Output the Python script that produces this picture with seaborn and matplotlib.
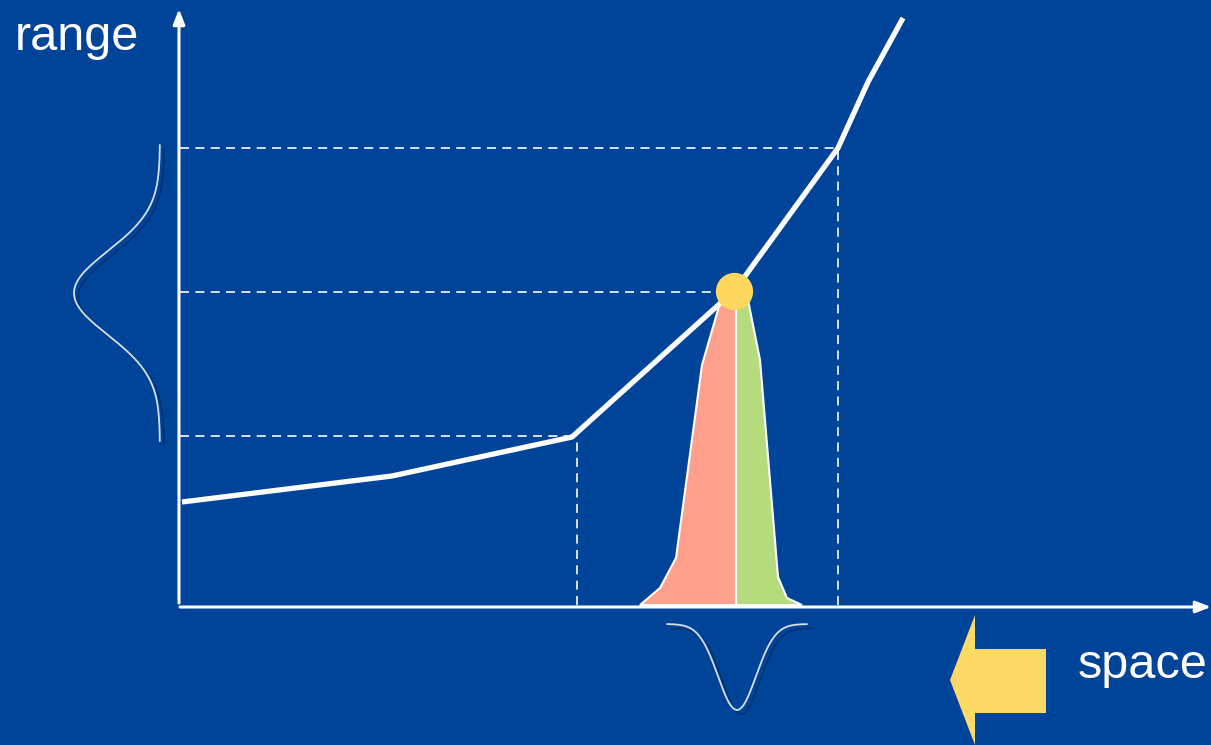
import numpy as np
import pandas as pd
import matplotlib
matplotlib.use("Agg")
import matplotlib.pyplot as plt
import matplotlib.patheffects as pe
import seaborn as sns

# Values (origin = where the axes meet, units ~ pixels)
curve_x = [2, 212, 392, 555, 658, 688, 723]
curve_y = [103, 129, 168, 315, 457, 523, 587]

# operating point and its projections
point_x, point_y = 554, 314
guide_levels = [169, 313, 457]          # horizontal dashed lines
guide_ends = [392, 540, 658]            # where they stop on x
drop_x = [397, 658]                     # vertical dashed lines
drop_top = [169, 457]

# output distribution under the operating point (left = lower, right = upper half)
peak_left_x = [460, 480, 496, 522, 540, 556]
peak_left_y = [0, 17, 47, 240, 302, 310]
peak_right_x = [556, 568, 580, 598, 607, 622]
peak_right_y = [310, 305, 245, 28, 7, 0]

# input / output bell shapes: (centre, width, depth)
bell_in = (557, 19, 86)
bell_out = (312, 42, 86)

BG = "#00449A"
sns.set_style("white", {"axes.facecolor": BG, "figure.facecolor": BG})
plt.rcParams["font.family"] = ["Liberation Sans", "DejaVu Sans"]

fig = plt.figure(figsize=(12.11, 7.45), dpi=100)
ax = fig.add_axes([0, 0, 1, 1])
ax.set_xlim(-180, 1031)
ax.set_ylim(-140, 605)
ax.axis("off")

# axes with arrow heads
ax.annotate("", xy=(1031, -2), xytext=(0, -2),
            arrowprops=dict(arrowstyle="-|>,head_length=0.9,head_width=0.35",
                            color="white", lw=2.2, shrinkA=0, shrinkB=0))
ax.annotate("", xy=(-1, 596), xytext=(-1, 2),
            arrowprops=dict(arrowstyle="-|>,head_length=0.9,head_width=0.35",
                            color="white", lw=2.2, shrinkA=0, shrinkB=0))

# dashed guides
dash = dict(color="white", lw=1.3, ls=(0, (5, 3.5)), alpha=0.9)
for lvl, end in zip(guide_levels, guide_ends):
    ax.plot([0, end], [lvl, lvl], **dash)
for xv, top in zip(drop_x, drop_top):
    ax.plot([xv, xv], [0, top], **dash)

# distribution under the point
ax.fill(peak_left_x + [556], peak_left_y + [0], color="#FFA08C", ec="white", lw=1.5, zorder=3)
ax.fill([556] + peak_right_x, [0] + peak_right_y, color="#B5DC7C", ec="white", lw=1.5, zorder=3)

# transfer curve
df = pd.DataFrame({"x": curve_x, "y": curve_y})
sns.lineplot(data=df, x="x", y="y", ax=ax, color="white", lw=3.8, sort=False,
             zorder=4, solid_joinstyle="round", solid_capstyle="butt")

ax.scatter([point_x], [point_y], s=720, color="#FFD75E", zorder=5, lw=0)

# bell shapes with a soft shadow
shadow = [pe.SimpleLineShadow(offset=(3, -3), shadow_color="#001a40", alpha=0.4, rho=0.3),
          pe.Normal()]
c, w, d = bell_in
bx = np.linspace(c - 70, c + 70, 200)
ax.plot(bx, -19 - d * np.exp(-0.5 * ((bx - c) / w) ** 2), color="#D8DEE6", lw=1.3,
        path_effects=shadow)
c, w, d = bell_out
by = np.linspace(c - 148, c + 148, 300)
ax.plot(-20 - d * np.exp(-0.5 * ((by - c) / w) ** 2), by, color="#D8DEE6", lw=1.3,
        path_effects=shadow)

# yellow arrow pointing left
ax.fill([770, 795, 795, 866, 866, 795, 795], [-75, -10, -44, -44, -108, -108, -140],
        color="#FFD966", lw=0)

ax.text(-165, 555, "range", color="white", fontsize=35, va="baseline")
ax.text(898, -73, "space", color="white", fontsize=35, va="baseline")

fig.savefig("out.png", dpi=100, facecolor=BG)
